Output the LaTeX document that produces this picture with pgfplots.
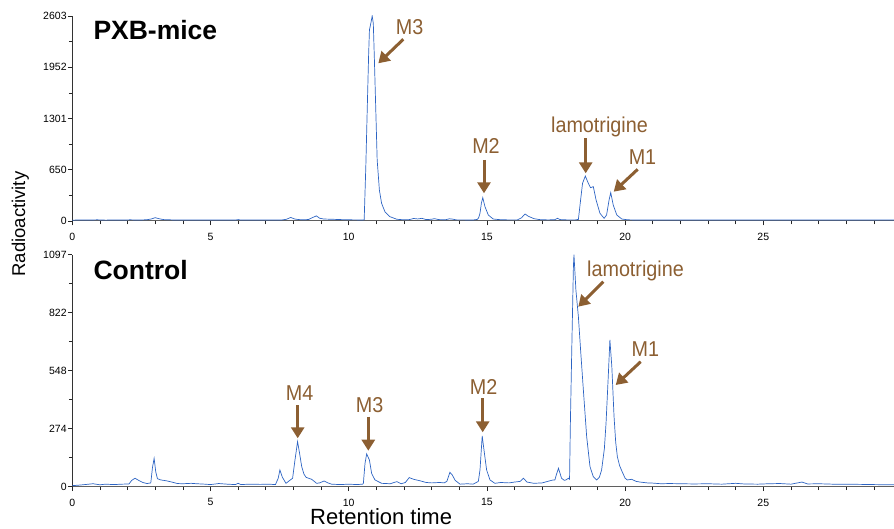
\documentclass[border=0pt]{standalone}
\usepackage{fontspec}
\setmainfont{Liberation Sans}
\newfontface\annfont{Liberation Sans}[FakeStretch=0.92]
\newfontface\titlefont{Liberation Sans Bold}
\usepackage{pgfplots}
\pgfplotsset{compat=1.18}
\usetikzlibrary{arrows.meta}
\definecolor{trace}{RGB}{45,100,195}
\definecolor{ann}{RGB}{140,95,50}
\definecolor{axgray}{RGB}{95,95,95}
\pgfplotsset{chrom/.style={
  scale only axis, width=829.2pt, anchor=south west,
  xmin=0, xmax=30, axis x line*=bottom, axis y line*=left,
  xtick={0,5,...,30}, xticklabels={0,5,10,15,20,25,30},
  minor x tick num=4, minor y tick num=1,
  tick align=outside,
  major tick length=4.5pt, minor tick length=3.5pt,
  every tick/.style={black!85, line width=0.6pt},
  x axis line style={axgray, line width=1pt},
  y axis line style={black!80, line width=0.8pt},
  tick label style={font=\fontsize{10.5}{12}\selectfont},
  xticklabel style={inner sep=1pt, yshift=-6.3pt},
  yticklabel style={inner sep=1pt},
  clip=true,
}}
\begin{document}
\begin{tikzpicture}
\useasboundingbox (0,0) rectangle (894pt,528pt);
% ---------------- top: PXB-mice ----------------
\begin{axis}[chrom, at={(72.3pt,307pt)}, height=205pt,
  ymin=0, ymax=2603,
  ytick={0,650.75,1301.5,1952.25,2603}, yticklabels={0,650,1301,1952,2603}]
\addplot[trace, line width=0.7pt] coordinates {
(0.0,10) (0.3,14) (0.6,12) (0.9,15) (1.2,11) (1.5,13) (1.8,12) (2.1,15) (2.4,12) (2.7,16)
(2.85,25) (3.0,42) (3.15,28) (3.3,18) (3.6,14) (4.0,12) (4.5,13) (5.0,12) (5.5,13) (5.9,12)
(6.0,18) (6.1,12) (6.5,13) (7.0,12) (7.4,13) (7.6,14) (7.75,22) (7.9,45) (8.05,25) (8.2,18)
(8.4,15) (8.55,20) (8.7,45) (8.83,65) (8.95,35) (9.1,25) (9.4,22) (9.7,18) (10.0,15) (10.3,14)
(10.5,13) (10.56,15) (10.62,700) (10.67,1410) (10.72,2100) (10.75,2425) (10.80,2510) (10.85,2603)
(10.89,2510) (10.93,2045) (10.98,1410) (11.03,775) (11.11,394) (11.19,225) (11.31,118) (11.49,55)
(11.74,22) (12.0,15) (12.2,18) (12.35,32) (12.5,26) (12.65,34) (12.8,18) (13.0,22) (13.1,30)
(13.25,18) (13.5,16) (13.65,28) (13.75,24) (13.9,14) (14.2,14) (14.5,13) (14.65,20) (14.70,40)
(14.75,98) (14.80,225) (14.85,296) (14.93,182) (15.05,76) (15.23,25) (15.5,16) (15.8,14)
(16.1,14) (16.25,40) (16.38,89) (16.5,60) (16.7,30) (16.9,18) (17.2,14) (17.45,16) (17.55,34)
(17.65,18) (17.9,14) (18.2,14) (18.31,20) (18.39,267) (18.46,478) (18.56,571) (18.67,478)
(18.75,423) (18.85,436) (18.95,267) (19.09,98) (19.24,34) (19.33,76) (19.42,267) (19.48,360)
(19.57,203) (19.70,76) (19.88,25) (20.1,15) (20.4,13) (20.8,12) (21.2,14) (21.6,12) (22.0,13)
(22.4,14) (22.8,12) (23.2,13) (23.6,12) (24.0,14) (24.4,12) (24.8,13) (25.2,12) (25.6,14)
(26.0,13) (26.4,12) (26.8,13) (27.2,12) (27.6,13) (28.0,12) (28.4,13) (28.8,12) (29.2,14)
(29.6,13) (30.0,12)
};
\end{axis}
% ---------------- bottom: Control ----------------
\begin{axis}[chrom, at={(72.3pt,41.3pt)}, height=232pt,
  ymin=0, ymax=1097,
  ytick={0,274.25,548.5,822.75,1097}, yticklabels={0,274,548,822,1097}]
\addplot[trace, line width=0.7pt] coordinates {
(0.0,5) (0.3,8) (0.6,12) (0.75,14) (1.0,9) (1.2,12) (1.5,10) (1.8,12) (2.05,13) (2.15,30)
(2.27,40) (2.4,30) (2.55,20) (2.7,15) (2.84,18) (2.9,90) (2.96,134) (3.02,70) (3.08,38)
(3.2,32) (3.4,28) (3.6,22) (3.8,15) (4.0,14) (4.3,16) (4.5,14) (4.8,12) (5.0,10) (5.3,15)
(5.6,12) (5.9,10) (6.0,16) (6.1,10) (6.4,12) (6.8,11) (7.1,12) (7.35,10) (7.45,40) (7.51,79)
(7.6,45) (7.73,16) (7.85,28) (7.97,40) (8.05,120) (8.15,213) (8.22,160) (8.30,95) (8.38,60)
(8.46,44) (8.66,35) (8.84,16) (8.95,18) (9.11,27) (9.25,18) (9.38,12) (9.7,10) (10.0,12)
(10.3,10) (10.5,12) (10.53,15) (10.59,110) (10.65,155) (10.75,126) (10.83,63) (10.95,32)
(11.19,16) (11.5,14) (11.74,24) (11.9,14) (12.05,20) (12.19,43) (12.35,35) (12.58,28) (12.8,20)
(13.0,18) (13.3,20) (13.45,18) (13.55,25) (13.66,68) (13.75,55) (13.85,30) (14.03,12) (14.3,14)
(14.5,12) (14.69,25) (14.75,79) (14.83,240) (14.91,158) (14.99,79) (15.11,32) (15.29,16)
(15.5,20) (15.8,18) (16.0,22) (16.2,25) (16.32,40) (16.45,22) (16.7,16) (17.0,18) (17.28,28)
(17.4,32) (17.46,32) (17.52,60) (17.59,87) (17.70,40) (17.8,30) (17.86,32) (17.95,40)
(17.99,35) (18.02,300) (18.07,646) (18.13,1041) (18.15,1097) (18.22,930) (18.31,804)
(18.39,646) (18.49,457) (18.61,236) (18.73,95) (18.85,47) (18.97,32) (19.07,45) (19.15,79)
(19.25,180) (19.31,300) (19.39,520) (19.45,694) (19.52,567) (19.60,331) (19.66,210) (19.72,142)
(19.80,100) (19.88,75) (20.0,40) (20.08,32) (20.24,35) (20.4,25) (20.54,22) (20.8,18) (21.0,17)
(21.3,14) (21.6,15) (22.0,14) (22.5,13) (23.0,14) (23.5,12) (24.0,16) (24.3,13) (24.8,12)
(25.2,14) (25.6,15) (26.0,12) (26.4,22) (26.6,13) (27.0,14) (27.5,12) (28.0,12) (28.5,11)
(29.0,10) (29.5,9) (30.0,10)
};
\end{axis}
% ---------------- annotations (image pixel frame) ----------------
\begin{scope}[shift={(0pt,528pt)}, x=1pt, y=-1pt]
\tikzset{ar/.style={ann, line width=3pt, -{Triangle[length=11pt, width=13pt]}},
         lab/.style={ann, inner sep=0pt, anchor=base, font=\annfont\fontsize{21.5}{24}\selectfont}}
\node[anchor=base west, inner sep=0pt, font=\titlefont\fontsize{26.5}{30}\selectfont] at (93.3,40) {PXB-mice};
\node[anchor=base west, inner sep=0pt, font=\titlefont\fontsize{26.5}{30}\selectfont] at (93.3,279.3) {Control};
% top
\draw[ar] (403.3,39.3) -- (378.3,63.3);
\node[lab] at (409.7,35) {M3};
\draw[ar] (484,160) -- (484,193.3);
\node[lab] at (486,154) {M2};
\draw[ar] (585.7,138.3) -- (585.7,173.3);
\node[lab] at (599.5,132.7) {lamotrigine};
\draw[ar] (637.7,169.3) -- (613.7,191.7);
\node[lab] at (642.5,165) {M1};
% bottom
\draw[ar] (297.7,405) -- (297.7,438.3);
\node[lab] at (299.7,400) {M4};
\draw[ar] (368.3,416.7) -- (368.3,450.7);
\node[lab] at (369.7,412.7) {M3};
\draw[ar] (482.7,398.3) -- (482.7,432.3);
\node[lab] at (483.7,394) {M2};
\draw[ar] (603.3,281.7) -- (578.3,306.7);
\node[lab] at (635.5,276.7) {lamotrigine};
\draw[ar] (640.7,361.7) -- (615.7,385);
\node[lab] at (645.3,356) {M1};
% axis titles
\node[anchor=base west, inner sep=0pt, rotate=90, font=\fontsize{18.5}{21}\selectfont] at (25,276.7) {Radioactivity};
\node[anchor=base west, inner sep=0pt, font=\fontsize{22}{25}\selectfont] at (310,524.5) {Retention time};
\end{scope}
\end{tikzpicture}
\end{document}
